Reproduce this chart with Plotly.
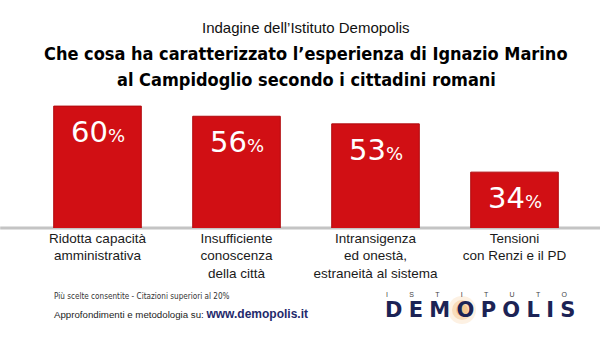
import plotly.graph_objects as go

categories = ["Ridotta capacità<br>amministrativa",
              "Insufficiente<br>conoscenza<br>della città",
              "Intransigenza<br>ed onestà,<br>estraneità al sistema",
              "Tensioni<br>con Renzi e il PD"]
values = [60, 56, 53, 34]
cat_ids = ["c1", "c2", "c3", "c4"]

COND = "DejaVu Sans Condensed, Roboto Condensed, Liberation Sans Narrow, Arial Narrow, sans-serif"

fig = go.Figure()
fig.add_trace(go.Bar(
    x=cat_ids, y=values, width=0.63,
    marker=dict(color="#d10f14", line=dict(color="#b00a0e", width=1)),
    hoverinfo="skip",
))

ann = []
for c, v in zip(cat_ids, values):
    ann.append(dict(
        x=c, y=v, xref="x", yref="y", yanchor="top", yshift=-7, showarrow=False,
        text=f"{v}<span style='font-size:18px'>%</span>",
        font=dict(family="DejaVu Sans", size=29, color="white"),
    ))

# baseline
fig.add_shape(type="line", xref="paper", yref="paper", x0=-0.05, x1=1.03, y0=0, y1=0,
              line=dict(color="#c4c4c4", width=3), layer="below")

ann += [
    dict(xref="paper", yref="paper", x=0.5, y=1, xanchor="center", yanchor="middle",
         yshift=100 - 27, showarrow=False,
         text="Indagine dell’Istituto Demopolis",
         font=dict(family="Liberation Sans", size=15, color="#111")),
    dict(xref="paper", yref="paper", x=0.5, xanchor="center", y=1, yanchor="middle",
         yshift=(100 - 53), showarrow=False,
         text="<b>Che cosa ha caratterizzato l’esperienza di Ignazio Marino</b>",
         font=dict(family=COND, size=18, color="#000")),
    dict(xref="paper", yref="paper", x=0.5, xanchor="center", y=1, yanchor="middle",
         yshift=(100 - 79), showarrow=False,
         text="<b>al Campidoglio secondo i cittadini romani</b>",
         font=dict(family=COND, size=18, color="#000")),
    dict(xref="paper", yref="paper", x=(52 - 28) / 556, xanchor="left", y=0, yanchor="middle",
         yshift=-(296 - 228), showarrow=False,
         text="Più scelte consentite - Citazioni superiori al 20%",
         font=dict(family=COND, size=8.1, color="#333")),
    dict(xref="paper", yref="paper", x=(52 - 28) / 556, xanchor="left", y=0, yanchor="middle",
         yshift=-(314 - 228), showarrow=False,
         text="Approfondimenti e metodologia su: <b><span style='color:#1f2a6b;font-size:12px'>www.demopolis.it</span></b>",
         font=dict(family="Liberation Sans", size=9.7, color="#222")),
    dict(xref="paper", yref="paper", x=(476 - 28) / 556, xanchor="center", y=0, yanchor="middle",
         yshift=-(294 - 228), showarrow=False,
         text="I           S           T           I           T           U           T           O",
         font=dict(family="Liberation Sans", size=7, color="#444")),
    dict(xref="paper", yref="paper", x=(480 - 28) / 556, xanchor="center", y=0, yanchor="middle",
         yshift=-(310 - 228), showarrow=False,
         text="<b>" + "\u2009\u200a".join("DEMOPOLIS") + "</b>",
         font=dict(family="DejaVu Sans", size=21, color="#1c2355")),
]

fig.update_layout(
    width=600, height=342,
    margin=dict(l=28, r=16, t=100, b=114),
    paper_bgcolor="white", plot_bgcolor="white",
    showlegend=False,
    bargap=0.37,
    xaxis=dict(tickmode="array", tickvals=cat_ids, ticktext=categories,
               showline=False, showgrid=False, ticks="", zeroline=False,
               tickfont=dict(family="Liberation Sans", size=13.5, color="#1a1a1a")),
    yaxis=dict(range=[12, 62.4], visible=False, fixedrange=True),
    annotations=ann,
)

# orange glow behind the O of the logo
for r, op in [(14, 0.15), (10, 0.25), (6, 0.35)]:
    fig.add_shape(type="circle", xref="paper", yref="paper",
                  x0=(462 - r - 28) / 556, x1=(462 + r - 28) / 556,
                  y0=(228 - 310 - r) / 128, y1=(228 - 310 + r) / 128,
                  fillcolor="#f0a040", opacity=op, line=dict(width=0), layer="below")

fig.write_html("out.html")
